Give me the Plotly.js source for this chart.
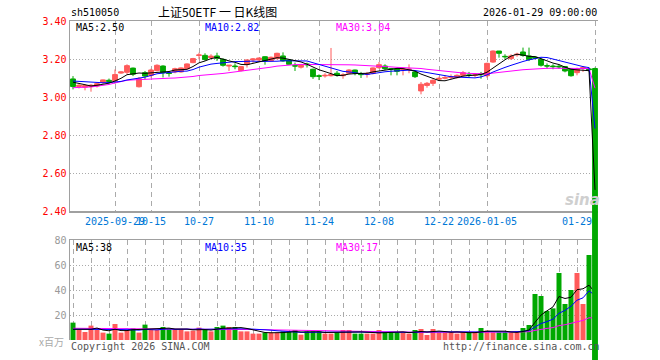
<!DOCTYPE html>
<html><head><meta charset="utf-8">
<script src="https://cdn.plot.ly/plotly-3.0.1.min.js"></script>
<style>html,body{margin:0;padding:0;background:#fff}#chart{width:660px;height:360px}</style>
</head><body><div id="chart"></div>
<script>
// ---------- DATA ----------
const dates = [
 '2025-09-18','2025-09-19','2025-09-22','2025-09-23','2025-09-24','2025-09-25','2025-09-26','2025-09-29','2025-09-30',
 '2025-10-09','2025-10-10','2025-10-13','2025-10-14','2025-10-15','2025-10-16','2025-10-17','2025-10-20','2025-10-21','2025-10-22','2025-10-23','2025-10-24','2025-10-27','2025-10-28','2025-10-29','2025-10-30','2025-10-31',
 '2025-11-03','2025-11-04','2025-11-05','2025-11-06','2025-11-07','2025-11-10','2025-11-11','2025-11-12','2025-11-13','2025-11-14','2025-11-17','2025-11-18','2025-11-19','2025-11-20','2025-11-21','2025-11-24','2025-11-25','2025-11-26','2025-11-27','2025-11-28',
 '2025-12-01','2025-12-02','2025-12-03','2025-12-04','2025-12-05','2025-12-08','2025-12-09','2025-12-10','2025-12-11','2025-12-12','2025-12-15','2025-12-16','2025-12-17','2025-12-18','2025-12-19','2025-12-22','2025-12-23','2025-12-24','2025-12-25','2025-12-26','2025-12-29','2025-12-30','2025-12-31',
 '2026-01-05','2026-01-06','2026-01-07','2026-01-08','2026-01-09','2026-01-12','2026-01-13','2026-01-14','2026-01-15','2026-01-16','2026-01-19','2026-01-20','2026-01-21','2026-01-22','2026-01-23','2026-01-26','2026-01-27','2026-01-28','2026-01-29'
];
const opens = [
 3.095,3.055,3.052,3.055,3.058,3.078,3.088,3.085,3.126,3.130,3.152,3.054,3.128,3.114,3.139,3.163,3.127,3.132,3.132,3.149,
 3.181,3.219,3.219,3.207,3.216,3.198,3.163,3.163,3.139,3.172,3.195,3.195,3.212,3.190,3.202,3.216,3.195,3.165,3.157,3.174,
 3.146,3.112,3.111,3.112,3.125,3.112,3.125,3.142,3.121,3.119,3.125,3.154,3.163,3.149,3.149,3.144,3.145,3.132,3.032,3.061,
 3.072,3.094,3.099,3.103,3.102,3.114,3.116,3.114,3.121,3.112,3.184,3.242,3.214,3.202,3.222,3.237,3.216,3.210,3.198,3.165,
 3.163,3.162,3.160,3.146,3.128,3.151,3.148,3.150
];
const highs = [
 3.110,3.068,3.066,3.068,3.075,3.092,3.097,3.145,3.135,3.172,3.155,3.105,3.137,3.149,3.172,3.167,3.137,3.154,3.156,3.177,
 3.206,3.233,3.230,3.225,3.233,3.204,3.168,3.177,3.163,3.198,3.205,3.208,3.215,3.213,3.233,3.235,3.198,3.181,3.172,3.181,
 3.149,3.119,3.125,3.258,3.137,3.125,3.146,3.144,3.132,3.132,3.156,3.184,3.172,3.153,3.153,3.154,3.172,3.137,3.079,3.079,
 3.093,3.107,3.114,3.119,3.119,3.137,3.132,3.125,3.132,3.181,3.245,3.242,3.225,3.225,3.233,3.260,3.260,3.214,3.207,3.177,
 3.172,3.170,3.163,3.149,3.154,3.163,3.155,3.155
];
const lows = [
 3.040,3.045,3.035,3.028,3.050,3.070,3.072,3.070,3.122,3.120,3.110,3.050,3.093,3.102,3.135,3.103,3.107,3.125,3.128,3.146,
 3.178,3.198,3.191,3.200,3.190,3.160,3.137,3.146,3.135,3.155,3.180,3.190,3.170,3.188,3.198,3.185,3.168,3.137,3.150,3.155,
 3.095,3.089,3.102,3.108,3.107,3.096,3.121,3.114,3.100,3.102,3.119,3.149,3.142,3.114,3.114,3.114,3.125,3.100,3.014,3.049,
 3.058,3.084,3.093,3.093,3.098,3.107,3.102,3.102,3.096,3.102,3.180,3.207,3.198,3.195,3.212,3.212,3.189,3.198,3.160,3.149,
 3.146,3.149,3.130,3.107,3.114,3.132,3.135,0
];
const closes = [
 3.055,3.062,3.060,3.062,3.070,3.090,3.082,3.118,3.132,3.165,3.120,3.096,3.110,3.142,3.167,3.128,3.124,3.149,3.153,3.174,
 3.202,3.221,3.198,3.215,3.204,3.167,3.167,3.160,3.160,3.195,3.200,3.205,3.190,3.209,3.230,3.190,3.172,3.163,3.167,3.170,
 3.107,3.109,3.114,3.118,3.114,3.116,3.142,3.125,3.118,3.123,3.153,3.170,3.149,3.146,3.135,3.147,3.147,3.107,3.067,3.072,
 3.088,3.098,3.102,3.107,3.114,3.128,3.114,3.116,3.118,3.177,3.242,3.230,3.212,3.216,3.225,3.219,3.198,3.205,3.167,3.163,
 3.160,3.159,3.137,3.112,3.146,3.154,3.144,0
];
// volume, millions
const volumes = [
 13.9,8.0,6.4,11.5,8.0,5.9,5.1,12.8,5.9,8.0,9.3,5.9,12.3,8.0,8.0,10.4,8.8,8.8,8.8,6.9,
 7.5,9.9,8.5,6.9,10.4,11.5,10.4,10.4,6.9,6.9,5.1,5.1,5.9,5.9,5.9,6.9,6.9,8.0,4.3,6.9,
 6.9,6.9,5.1,5.1,6.1,8.0,8.0,5.1,5.1,5.1,5.1,8.0,6.1,6.1,6.1,6.1,5.1,8.0,8.8,4.0,
 8.8,6.1,6.1,6.1,5.1,6.1,6.1,6.1,9.6,7.5,6.1,6.1,6.1,6.1,6.1,9.6,12.0,36.8,35.2,23.2,
 25.3,53.6,28.8,40.0,53.6,28.8,68.0,0
];
// moving-average values before a full window is available
const priceMA5Head  = [3.078,3.070,3.062,3.058];
const priceMA10Head = [3.084,3.082,3.079,3.077,3.075,3.075,3.076,3.078,3.082];
const priceMA30Head = [3.049,3.050,3.051,3.053,3.057,3.061,3.066,3.074,3.083,3.088,3.090,3.092,3.094,3.096,3.097,3.098,3.099,3.100,3.102,3.104,3.108,3.113,3.115,3.118,3.121,3.124,3.128,3.132,3.136];
const volMA5Head  = [8.6,8.4,8.2,8.6];
const volMA10Head = [8.6,8.5,8.4,8.4,8.5,8.5,8.4,8.4,8.4];
const volMA30Head = [9.4,9.4,9.3,9.3,9.2,9.2,9.1,9.1,9.0,9.0,8.9,8.9,8.8,8.8,8.8,8.8,8.7,8.7,8.7,8.7,8.7,8.7,8.7,8.7,8.8,8.8,8.8,8.8,8.8];

const tickDates  = ['2025-09-29','2025-10-15','2025-10-27','2025-11-10','2025-11-24','2025-12-08','2025-12-22','2026-01-05','2026-01-29'];
const tickLabels = ['2025-09-29','10-15','10-27','11-10','11-24','12-08','12-22','2026-01-05','01-29\u00a0\u00a0\u00a0\u00a0\u00a0\u00a0'];
const priceTicks = [2.40,2.60,2.80,3.00,3.20,3.40];
const volTicks   = [20,40,60,80];
const symbol = 'sh510050';
const titleText = '上证50ETF 一 日K线图';
const timeText = '2026-01-29 09:00:00';
const priceMALabels = ['MA5:2.50','MA10:2.82','MA30:3.04'];
const volMALabels   = ['MA5:38','MA10:35','MA30:17'];

// ---------- helpers ----------
function movingAvg(arr, n, head){
  return arr.map((v,i)=>{
    if(i < n-1) return head[i];
    let s=0; for(let k=i-n+1;k<=i;k++) s+=arr[k];
    return s/n;
  });
}
const UP='#ff5a5a', DOWN='#00a800';
const C5='#000000', C10='#0000ff', C30='#ff00ff';

// ---------- geometry (pixels) ----------
const W=660,H=360,L=70,R=62,T=21,B=0;
const plotW=W-L-R, plotH=H-T-B;
const priceTop=21, priceBot=211, volTop=240, volBot=340;
const fy = px => (H-B-px)/plotH;
const fx = px => (px-L)/plotW;
const pxPerUnit = (priceBot-priceTop)/(priceTicks[priceTicks.length-1]-priceTicks[0]);
const y3lo = priceTicks[priceTicks.length-1] - plotH/pxPerUnit;

const volColors = closes.map((c,i)=> c>=opens[i] ? UP : DOWN);

const mono = 'DejaVu Sans Mono, monospace';
const traces = [
  // anchors the price-axis subplot (draws nothing itself)
  {type:'scatter', mode:'none', x:dates, y:closes, xaxis:'x', yaxis:'y', hoverinfo:'skip', showlegend:false},
  {type:'candlestick', x:dates, open:opens, high:highs, low:lows, close:closes,
   xaxis:'x3', yaxis:'y3', whiskerwidth:0,
   increasing:{line:{color:UP,width:1}, fillcolor:UP},
   decreasing:{line:{color:DOWN,width:1}, fillcolor:DOWN},
   hoverinfo:'skip', showlegend:false},
  {type:'scatter', mode:'lines', x:dates, y:movingAvg(closes,30,priceMA30Head), xaxis:'x3', yaxis:'y3', line:{color:C30,width:1}, hoverinfo:'skip', showlegend:false},
  {type:'scatter', mode:'lines', x:dates, y:movingAvg(closes,10,priceMA10Head), xaxis:'x3', yaxis:'y3', line:{color:C10,width:1}, hoverinfo:'skip', showlegend:false},
  {type:'scatter', mode:'lines', x:dates, y:movingAvg(closes,5,priceMA5Head), xaxis:'x3', yaxis:'y3', line:{color:C5,width:1}, hoverinfo:'skip', showlegend:false},
  {type:'bar', x:dates, y:volumes, xaxis:'x2', yaxis:'y2', marker:{color:volColors, line:{width:0}}, hoverinfo:'skip', showlegend:false},
  {type:'scatter', mode:'lines', x:dates, y:movingAvg(volumes,30,volMA30Head), xaxis:'x2', yaxis:'y2', line:{color:C30,width:1}, hoverinfo:'skip', showlegend:false},
  {type:'scatter', mode:'lines', x:dates, y:movingAvg(volumes,10,volMA10Head), xaxis:'x2', yaxis:'y2', line:{color:C10,width:1}, hoverinfo:'skip', showlegend:false},
  {type:'scatter', mode:'lines', x:dates, y:movingAvg(volumes,5,volMA5Head), xaxis:'x2', yaxis:'y2', line:{color:C5,width:1}, hoverinfo:'skip', showlegend:false}
];

const axLine = '#a0a0a0', gridC = '#aaaaaa';
function ann(text, xpx, ypx, anchor, color, size, family){
  return {text, x:fx(xpx), y:fy(ypx), xref:'paper', yref:'paper', xanchor:anchor, yanchor:'middle',
          showarrow:false, borderpad:0, font:{family:family||mono, size:size||10, color:color||'#000'}};
}

const layout = {
  width:W, height:H, margin:{l:L,r:R,t:T,b:B,pad:0},
  paper_bgcolor:'#ffffff', plot_bgcolor:'rgba(0,0,0,0)', showlegend:false,
  bargap:1/6, boxgap:0.2, boxgroupgap:0,
  xaxis:{type:'category', domain:[0,1], anchor:'y', rangeslider:{visible:false},
    tickmode:'array', tickvals:tickDates, ticktext:tickLabels, tickangle:0, ticks:'',
    tickfont:{family:mono, size:10, color:'#0078d7'},
    showgrid:true, gridcolor:gridC, gridwidth:1, griddash:'5px,4px',
    showline:true, linecolor:axLine, linewidth:1.5, mirror:true, zeroline:false, fixedrange:true},
  yaxis:{domain:[fy(priceBot),fy(priceTop)], anchor:'x', range:[priceTicks[0], priceTicks[priceTicks.length-1]],
    tickmode:'array', tickvals:priceTicks, ticktext:priceTicks.map(v=>v.toFixed(2)), ticks:'',
    tickfont:{family:mono, size:10, color:'#ff0000'},
    showgrid:true, gridcolor:gridC, gridwidth:1, griddash:'1px,2px',
    showline:true, linecolor:axLine, linewidth:1.5, zeroline:false, fixedrange:true},
  xaxis2:{type:'category', matches:'x', anchor:'y2', side:'top', showticklabels:false, ticks:'',
    showgrid:true, gridcolor:gridC, gridwidth:1, griddash:'5px,4px',
    showline:true, linecolor:axLine, linewidth:1.5, zeroline:false, fixedrange:true, rangeslider:{visible:false}},
  yaxis2:{domain:[fy(volBot),fy(volTop)], anchor:'x2', range:[0,80],
    tickmode:'array', tickvals:volTicks, ticks:'',
    tickfont:{family:mono, size:10, color:'#999999'},
    showgrid:true, gridcolor:gridC, gridwidth:1, griddash:'1px,2px',
    showline:true, linecolor:axLine, linewidth:1.5, zeroline:false, fixedrange:true},
  xaxis3:{type:'category', matches:'x', anchor:'y3', visible:false, showgrid:false, rangeslider:{visible:false}},
  yaxis3:{domain:[0,1], anchor:'x3', range:[y3lo, priceTicks[priceTicks.length-1]], visible:false, showgrid:false, zeroline:false},
  annotations:[
    ann(symbol, 70, 13, 'left'),
    ann(titleText, 217, 12, 'center', '#000', 12, 'Noto Sans CJK SC, sans-serif'),
    ann(timeText, 598, 13, 'right'),
    ann(priceMALabels[0], 75, 27, 'left', C5),
    ann(priceMALabels[1], 204, 27, 'left', C10),
    ann(priceMALabels[2], 335, 27, 'left', C30),
    ann(volMALabels[0], 75, 247, 'left', C5),
    ann(volMALabels[1], 204, 247, 'left', C10),
    ann(volMALabels[2], 335, 247, 'left', C30),
    ann('x百万', 65, 341, 'right', '#aaaaaa', 10, 'Noto Sans CJK SC, sans-serif'),
    ann('Copyright 2026 SINA.COM', 70, 346, 'left', '#555555'),
    ann('http://finance.sina.com.cn', 442, 346, 'left', '#555555'),
    ann('<b><i>sina</i></b>', 564, 200, 'left', '#cfcfcf', 15, 'DejaVu Sans, sans-serif')
  ]
};

Plotly.newPlot('chart', traces, layout, {staticPlot:true, displayModeBar:false});
</script>
</body></html>
